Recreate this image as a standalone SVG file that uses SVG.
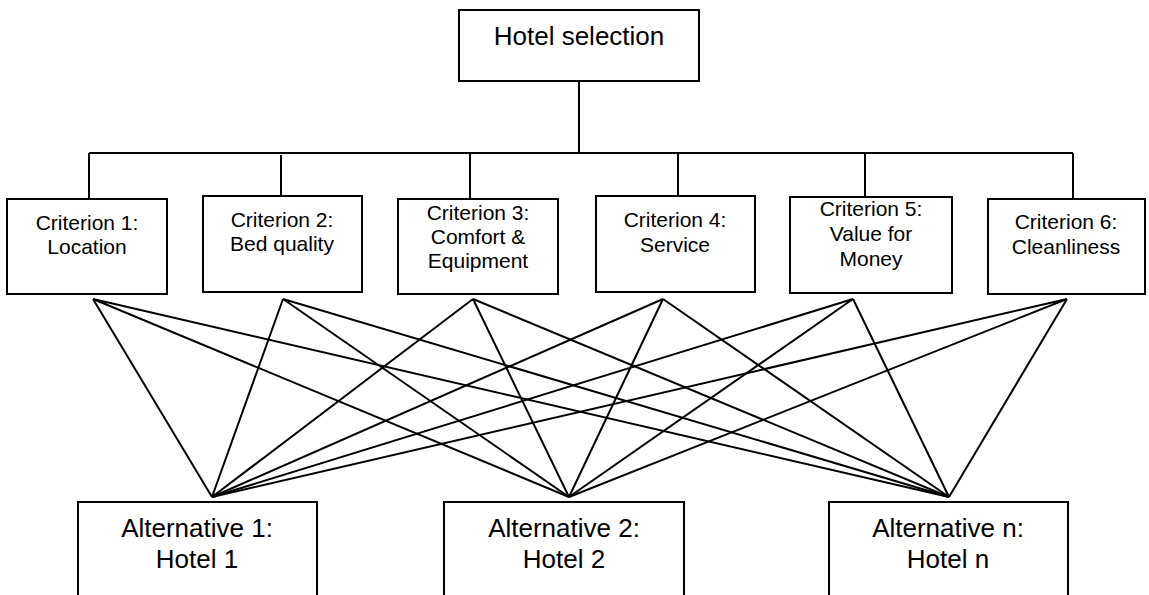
<svg xmlns="http://www.w3.org/2000/svg" width="1149" height="595" viewBox="0 0 1149 595">
<style>
.box{fill:#fff;stroke:#000;stroke-width:2}
.ln{stroke:#000;stroke-width:2;fill:none}
text{font-family:"Liberation Sans",Arial,sans-serif;fill:#000;text-anchor:middle}
.c{font-size:21px}
.b{font-size:26px}
</style>
<rect width="1149" height="595" fill="#fff"/>
<g id="connectors" class="ln">
<path d="M579 81V153M89 153H1073M89 153V199M281 155V196M470 153V199M678 153V196M865 153V197M1073 153V199"/>
<path d="M93 299L212 497M93 299L569 497M93 299L949 497"/>
<path d="M283 299L212 497M283 299L569 497M283 299L949 497"/>
<path d="M473 299L212 497M473 299L569 497M473 299L949 497"/>
<path d="M663 299L212 497M663 299L569 497M663 299L949 497"/>
<path d="M853 299L212 497M853 299L569 497M853 299L949 497"/>
<path d="M1067 299L212 497M1067 299L569 497M1067 299L949 497"/>
</g>
<g id="goal"><rect class="box" x="459" y="10" width="240" height="71"/><text class="b" x="579" y="45">Hotel selection</text></g>
<g id="c1"><rect class="box" x="7" y="199" width="160" height="95"/><text class="c" x="87" y="230">Criterion 1:</text><text class="c" x="87" y="254">Location</text></g>
<g id="c2"><rect class="box" x="203" y="196" width="159" height="96"/><text class="c" x="282" y="227">Criterion 2:</text><text class="c" x="282" y="251">Bed quality</text></g>
<g id="c3"><rect class="box" x="398" y="199" width="160" height="95"/><text class="c" x="478" y="220">Criterion 3:</text><text class="c" x="478" y="244">Comfort &amp;</text><text class="c" x="478" y="268">Equipment</text></g>
<g id="c4"><rect class="box" x="596" y="196" width="159" height="96"/><text class="c" x="675" y="227">Criterion 4:</text><text class="c" x="675" y="252">Service</text></g>
<g id="c5"><rect class="box" x="790" y="197" width="162" height="96"/><text class="c" x="871" y="216">Criterion 5:</text><text class="c" x="871" y="241">Value for</text><text class="c" x="871" y="266">Money</text></g>
<g id="c6"><rect class="box" x="988" y="199" width="157" height="95"/><text class="c" x="1066" y="229">Criterion 6:</text><text class="c" x="1066" y="254">Cleanliness</text></g>
<g id="a1"><rect class="box" x="78" y="502" width="239" height="100"/><text class="b" x="197" y="537">Alternative 1:</text><text class="b" x="197" y="568">Hotel 1</text></g>
<g id="a2"><rect class="box" x="444" y="502" width="240" height="100"/><text class="b" x="564" y="537">Alternative 2:</text><text class="b" x="564" y="568">Hotel 2</text></g>
<g id="an"><rect class="box" x="829" y="502" width="239" height="100"/><text class="b" x="948" y="537">Alternative n:</text><text class="b" x="948" y="568">Hotel n</text></g>
</svg>
